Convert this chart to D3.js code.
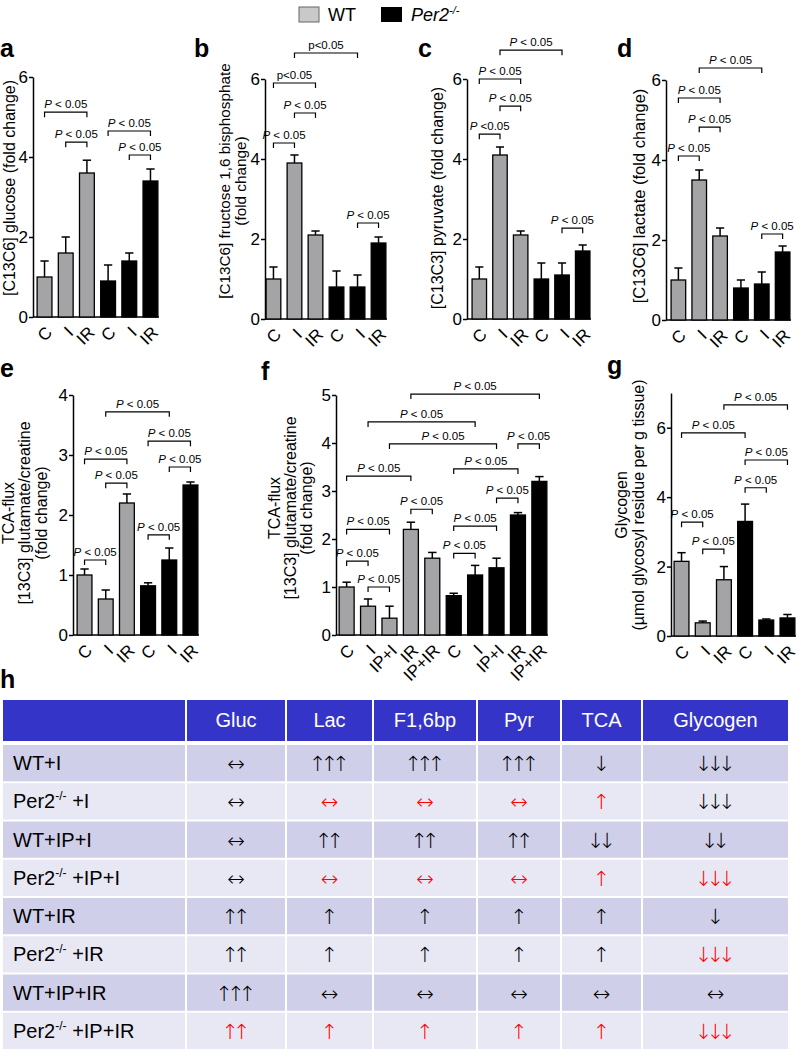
<!DOCTYPE html>
<html>
<head>
<meta charset="utf-8">
<script src="https://cdn.jsdelivr.net/npm/d3@7"></script>
<style>
  body { margin: 0; background: #fff; }
  text { font-family: Arial, "Liberation Sans", sans-serif; }
</style>
</head>
<body>
<svg id="fig" width="798" height="1050"></svg>
<script>
// ---- data ----
var groups6 = ["C", "I", "IR", "C", "I", "IR"];
var geno6 = ["WT", "WT", "WT", "KO", "KO", "KO"];
var groups10 = ["C", "I", "IP+I", "IR", "IP+IR", "C", "I", "IP+I", "IR", "IP+IR"];
var geno10 = ["WT", "WT", "WT", "WT", "WT", "KO", "KO", "KO", "KO", "KO"];

var glucoseMean = [1.0, 1.6, 3.6, 0.9, 1.4, 3.4];
var glucoseErr = [0.4, 0.4, 0.32, 0.4, 0.2, 0.3];
var glucoseComps = [[0, 2, 5.12, "P < 0.05"], [1, 2, 4.37, "P < 0.05"], [3, 5, 4.65, "P < 0.05"], [4, 5, 4.05, "P < 0.05"]];

var f16bpMean = [1.0, 3.9, 2.1, 0.8, 0.8, 1.9];
var f16bpErr = [0.3, 0.2, 0.1, 0.4, 0.3, 0.15];
var f16bpComps = [[1, 4, 6.65, "p<0.05"], [0, 2, 5.9, "p<0.05"], [1, 2, 5.15, "P < 0.05"], [0, 1, 4.4, "P < 0.05"], [4, 5, 2.4, "P < 0.05"]];

var pyruvateMean = [1.0, 4.1, 2.1, 1.0, 1.1, 1.7];
var pyruvateErr = [0.3, 0.2, 0.1, 0.4, 0.3, 0.15];
var pyruvateComps = [[1, 4, 6.72, "P < 0.05"], [0, 2, 6.0, "P < 0.05"], [1, 2, 5.32, "P < 0.05"], [0, 1, 4.62, "P <0.05"], [4, 5, 2.27, "P < 0.05"]];

var lactateMean = [1.0, 3.5, 2.1, 0.8, 0.9, 1.7];
var lactateErr = [0.3, 0.25, 0.2, 0.2, 0.3, 0.15];
var lactateComps = [[1, 4, 6.3, "P < 0.05"], [0, 2, 5.55, "P < 0.05"], [1, 2, 4.82, "P < 0.05"], [0, 1, 4.1, "P < 0.05"], [4, 5, 2.15, "P < 0.05"]];

var tcaMean = [1.0, 0.6, 2.2, 0.82, 1.25, 2.5];
var tcaErr = [0.1, 0.15, 0.15, 0.05, 0.2, 0.05];
var tcaComps = [[1, 4, 3.72, "P < 0.05"], [3, 5, 3.23, "P < 0.05"], [0, 2, 2.93, "P < 0.05"], [4, 5, 2.8, "P < 0.05"], [1, 2, 2.53, "P < 0.05"], [3, 4, 1.67, "P < 0.05"], [0, 1, 1.25, "P < 0.05"]];

var tcaIpMean = [1.0, 0.6, 0.35, 2.2, 1.6, 0.82, 1.25, 1.4, 2.5, 3.2];
var tcaIpErr = [0.1, 0.15, 0.25, 0.15, 0.12, 0.05, 0.2, 0.2, 0.05, 0.1];
var tcaIpComps = [[3, 9, 5.02, "P < 0.05"], [1, 6, 4.44, "P < 0.05"], [2, 7, 3.98, "P < 0.05"], [8, 9, 3.98, "P < 0.05"],
    [0, 3, 3.31, "P < 0.05"], [5, 8, 3.46, "P < 0.05"], [7, 8, 2.85, "P < 0.05"], [3, 4, 2.62, "P < 0.05"],
    [0, 2, 2.2, "P < 0.05"], [5, 7, 2.27, "P < 0.05"], [5, 6, 1.7, "P < 0.05"], [0, 1, 1.54, "P < 0.05"], [1, 2, 1.0, "P < 0.05"]];

var glycogenMean = [2.15, 0.38, 1.62, 3.3, 0.46, 0.52];
var glycogenErr = [0.25, 0.05, 0.38, 0.5, 0.03, 0.1];
var glycogenComps = [[2, 5, 6.66, "P < 0.05"], [0, 3, 5.85, "P < 0.05"], [3, 5, 5.07, "P < 0.05"], [3, 4, 4.27, "P < 0.05"], [0, 1, 3.28, "P < 0.05"], [1, 2, 2.5, "P < 0.05"]];

var tableCols = ["Gluc", "Lac", "F1,6bp", "Pyr", "TCA", "Glycogen"];
var rowGeno = ["WT", "KO", "WT", "KO", "WT", "KO", "WT", "KO"];
var rowTreat = ["+I", "+I", "+IP+I", "+IP+I", "+IR", "+IR", "+IP+IR", "+IP+IR"];
var tableCells = [
    ["↔", "↑↑↑", "↑↑↑", "↑↑↑", "↓", "↓↓↓"],
    ["↔", "↔", "↔", "↔", "↑", "↓↓↓"],
    ["↔", "↑↑", "↑↑", "↑↑", "↓↓", "↓↓"],
    ["↔", "↔", "↔", "↔", "↑", "↓↓↓"],
    ["↑↑", "↑", "↑", "↑", "↑", "↓"],
    ["↑↑", "↑", "↑", "↑", "↑", "↓↓↓"],
    ["↑↑↑", "↔", "↔", "↔", "↔", "↔"],
    ["↑↑", "↑", "↑", "↑", "↑", "↓↓↓"]
];
var tableRed = [
    [0, 0, 0, 0, 0, 0],
    [0, 1, 1, 1, 1, 0],
    [0, 0, 0, 0, 0, 0],
    [0, 1, 1, 1, 1, 1],
    [0, 0, 0, 0, 0, 0],
    [0, 0, 0, 0, 0, 1],
    [0, 0, 0, 0, 0, 0],
    [1, 1, 1, 1, 1, 1]
];

// ---- drawing ----
var svg = d3.select("#fig");
var grayFill = "#a4a4a7";

function drawPanel(p) {
    var g = svg.append("g");
    var x = d3.scaleBand()
        .domain(d3.range(p.mean.length))
        .range(p.xRange)
        .paddingInner(0.3)
        .paddingOuter(0.1);
    var y = d3.scaleLinear().domain(p.domain).range(p.yRange);
    var bw = x.bandwidth();

    g.append("text")
        .attr("x", p.letter[0]).attr("y", p.letter[1])
        .style("font-size", "25px").style("font-weight", "bold")
        .text(p.id);

    // y axis
    var ax = g.append("g")
        .attr("transform", "translate(" + p.axisX + ",0)")
        .call(d3.axisLeft(y).tickValues(p.ticks).tickSize(4).tickSizeOuter(0).tickPadding(1).tickFormat(d3.format("d")));
    ax.select(".domain").attr("stroke-width", 1.5);
    ax.selectAll(".tick line").attr("stroke-width", 1.5);
    ax.selectAll(".tick text").style("font-size", "17px").style("font-family", "Arial, 'Liberation Sans', sans-serif").attr("fill", "#000");

    // baseline
    var lastIdx = p.mean.length - 1;
    g.append("line")
        .attr("x1", p.axisX).attr("x2", x(lastIdx) + bw + 1)
        .attr("y1", y(0)).attr("y2", y(0))
        .attr("stroke", "#000").attr("stroke-width", 1.5);

    // error bars (upper only)
    g.selectAll("line.err")
        .data(p.mean)
        .enter().append("line")
        .attr("class", "err")
        .attr("x1", function (d, i) { return x(i) + bw / 2; })
        .attr("x2", function (d, i) { return x(i) + bw / 2; })
        .attr("y1", function (d) { return y(d); })
        .attr("y2", function (d, i) { return y(d + p.err[i]); })
        .attr("stroke", "#000").attr("stroke-width", 1.5);
    g.selectAll("line.cap")
        .data(p.mean)
        .enter().append("line")
        .attr("class", "cap")
        .attr("x1", function (d, i) { return x(i) + bw * 0.22; })
        .attr("x2", function (d, i) { return x(i) + bw * 0.78; })
        .attr("y1", function (d, i) { return y(d + p.err[i]); })
        .attr("y2", function (d, i) { return y(d + p.err[i]); })
        .attr("stroke", "#000").attr("stroke-width", 1.5);

    // bars
    g.selectAll("rect.bar")
        .data(p.mean)
        .enter().append("rect")
        .attr("class", "bar")
        .attr("x", function (d, i) { return x(i); })
        .attr("width", bw)
        .attr("y", function (d) { return y(d); })
        .attr("height", function (d) { return y(0) - y(d); })
        .attr("fill", function (d, i) { return p.geno[i] == "WT" ? grayFill : "#000"; })
        .attr("stroke", "#000").attr("stroke-width", 1.3);

    // x labels, rotated
    g.selectAll("text.xl")
        .data(p.groups)
        .enter().append("text")
        .attr("class", "xl")
        .attr("transform", function (d, i) {
            return "translate(" + (x(i) + bw / 2) + "," + (y(0) + 8) + ") rotate(-45)";
        })
        .attr("text-anchor", "end")
        .attr("dy", "0.72em")
        .style("font-size", "17px")
        .text(function (d) { return d; });

    // significance brackets
    var comps = g.selectAll("g.comp")
        .data(p.comps)
        .enter().append("g")
        .attr("class", "comp");
    comps.append("path")
        .attr("d", function (c) {
            var x1 = x(c[0]) + bw / 2, x2 = x(c[1]) + bw / 2, yy = y(c[2]);
            return "M" + x1 + "," + (yy + 5) + "V" + yy + "H" + x2 + "V" + (yy + 5);
        })
        .attr("fill", "none").attr("stroke", "#000").attr("stroke-width", 1.2);
    comps.append("text")
        .attr("x", function (c) { return (x(c[0]) + x(c[1])) / 2 + bw / 2; })
        .attr("y", function (c) { return y(c[2]) - 4; })
        .attr("text-anchor", "middle")
        .style("font-size", "11.5px")
        .each(function (c) {
            var t = d3.select(this);
            if (c[3].charAt(0) == "P") {
                t.append("tspan").style("font-style", "italic").text("P");
                t.append("tspan").text(c[3].slice(1));
            } else {
                t.text(c[3]);
            }
        });

    // y label
    p.label.forEach(function (line, k) {
        g.append("text")
            .attr("transform", "translate(" + p.labelX[k] + "," + p.labelY + ") rotate(-90)")
            .attr("text-anchor", "middle")
            .style("font-size", p.labelSize + "px")
            .text(line);
    });
}

drawPanel({ id: "a", letter: [0, 57], mean: glucoseMean, err: glucoseErr, comps: glucoseComps, groups: groups6, geno: geno6,
    axisX: 33, xRange: [35, 160], yRange: [317, 77], domain: [0, 6], ticks: [0, 2, 4, 6],
    label: ["[C13C6] glucose (fold change)"], labelX: [15], labelY: 188, labelSize: 16 });
drawPanel({ id: "b", letter: [194, 57], mean: f16bpMean, err: f16bpErr, comps: f16bpComps, groups: groups6, geno: geno6,
    axisX: 265, xRange: [264, 388], yRange: [319, 79], domain: [0, 6], ticks: [0, 2, 4, 6],
    label: ["[C13C6] fructose 1,6 bisphosphate", "(fold change)"], labelX: [230, 246], labelY: 181, labelSize: 15.3 });
drawPanel({ id: "c", letter: [418, 57], mean: pyruvateMean, err: pyruvateErr, comps: pyruvateComps, groups: groups6, geno: geno6,
    axisX: 467, xRange: [470, 592], yRange: [319, 79], domain: [0, 6], ticks: [0, 2, 4, 6],
    label: ["[C13C3] pyruvate (fold change)"], labelX: [443], labelY: 198, labelSize: 16 });
drawPanel({ id: "d", letter: [617, 57], mean: lactateMean, err: lactateErr, comps: lactateComps, groups: groups6, geno: geno6,
    axisX: 666, xRange: [669, 792], yRange: [320, 80], domain: [0, 6], ticks: [0, 2, 4, 6],
    label: ["[C13C6] lactate (fold change)"], labelX: [645], labelY: 196, labelSize: 16.5 });
drawPanel({ id: "e", letter: [0, 377], mean: tcaMean, err: tcaErr, comps: tcaComps, groups: groups6, geno: geno6,
    axisX: 73, xRange: [75, 200], yRange: [635, 395], domain: [0, 4], ticks: [0, 1, 2, 3, 4],
    label: ["TCA-flux", "[13C3] glutamate/creatine", "(fold change)"], labelX: [14, 30, 47], labelY: 513, labelSize: 16 });
drawPanel({ id: "f", letter: [261, 380], mean: tcaIpMean, err: tcaIpErr, comps: tcaIpComps, groups: groups10, geno: geno10,
    axisX: 336, xRange: [337, 549], yRange: [635, 395], domain: [0, 5], ticks: [0, 1, 2, 3, 4, 5],
    label: ["TCA-flux", "[13C3] glutamate/creatine", "(fold change)"], labelX: [280, 296, 312], labelY: 508, labelSize: 16 });
drawPanel({ id: "g", letter: [607, 374], mean: glycogenMean, err: glycogenErr, comps: glycogenComps, groups: groups6, geno: geno6,
    axisX: 671, xRange: [672, 797], yRange: [636, 393], domain: [0, 7], ticks: [0, 2, 4, 6],
    label: ["Glycogen", "(µmol glycosyl residue per g tissue)"], labelX: [627, 644], labelY: 505, labelSize: 16 });

// legend
var leg = svg.append("g");
leg.append("rect").attr("x", 299).attr("y", 7).attr("width", 20).attr("height", 15)
    .attr("fill", "#c9c9c9").attr("stroke", "#666").attr("stroke-width", 1);
leg.append("text").attr("x", 328).attr("y", 21).style("font-size", "18px").text("WT");
leg.append("rect").attr("x", 381).attr("y", 7).attr("width", 21).attr("height", 15).attr("fill", "#000");
var lt = leg.append("text").attr("x", 411).attr("y", 21).style("font-size", "18px").style("font-style", "italic");
lt.append("tspan").text("Per2");
lt.append("tspan").attr("dy", -7).style("font-size", "11px").text("-/-");

// ---- table h ----
svg.append("text").attr("x", 0).attr("y", 688)
    .style("font-size", "25px").style("font-weight", "bold").text("h");

var colEdges = [2, 186, 286, 373, 477, 561, 642, 789];
var tbl = svg.append("g");
var headerTop = 700, headerH = 41, rowTop = 745, rowStep = 38.25, rowH = 36.3;
var arrowSpacing = -6;

// header
tbl.selectAll("rect.hd")
    .data(d3.range(colEdges.length - 1))
    .enter().append("rect")
    .attr("class", "hd")
    .attr("x", function (i) { return colEdges[i] + 1; })
    .attr("width", function (i) { return colEdges[i + 1] - colEdges[i] - 2; })
    .attr("y", headerTop).attr("height", headerH)
    .attr("fill", "#3434c9");
tbl.selectAll("text.hd")
    .data(tableCols)
    .enter().append("text")
    .attr("class", "hd")
    .attr("x", function (d, i) { return (colEdges[i + 1] + colEdges[i + 2]) / 2; })
    .attr("y", headerTop + 27)
    .attr("text-anchor", "middle")
    .attr("fill", "#fff")
    .style("font-size", "20px")
    .text(function (d) { return d; });

// body rows
rowGeno.forEach(function (gn, r) {
    var top = rowTop + r * rowStep;
    var fill = gn == "WT" ? "#cfcfea" : "#e8e8f5";
    tbl.selectAll(null)
        .data(d3.range(colEdges.length - 1))
        .enter().append("rect")
        .attr("x", function (i) { return colEdges[i] + 1; })
        .attr("width", function (i) { return colEdges[i + 1] - colEdges[i] - 2; })
        .attr("y", top).attr("height", rowH)
        .attr("fill", fill);

    var lab = tbl.append("text")
        .attr("x", 13).attr("y", top + rowH / 2 + 7)
        .style("font-size", "20px");
    if (gn == "WT") {
        lab.text("WT" + rowTreat[r]);
    } else {
        lab.append("tspan").text("Per2");
        lab.append("tspan").attr("dy", -8).style("font-size", "12px").text("-/-");
        lab.append("tspan").attr("dy", 8).text(" " + rowTreat[r]);
    }

    tbl.selectAll(null)
        .data(tableCells[r])
        .enter().append("text")
        .attr("x", function (d, i) {
            var cx = (colEdges[i + 1] + colEdges[i + 2]) / 2;
            return d.length > 1 ? cx + arrowSpacing / 2 : cx;
        })
        .attr("y", top + rowH / 2 + 8)
        .attr("text-anchor", "middle")
        .attr("fill", function (d, i) { return tableRed[r][i] ? "#ff0000" : "#000"; })
        .style("font-family", "'DejaVu Sans', sans-serif")
        .style("font-weight", 200)
        .style("font-size", "21px")
        .style("letter-spacing", function (d) { return d.length > 1 ? arrowSpacing + "px" : null; })
        .text(function (d) { return d; });
});
</script>
</body>
</html>
